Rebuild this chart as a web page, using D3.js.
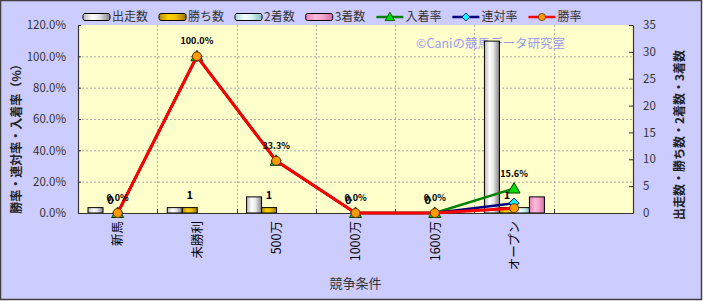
<!DOCTYPE html>
<html>
<head>
<meta charset="utf-8">
<script src="https://cdn.jsdelivr.net/npm/d3@7/dist/d3.min.js"></script>
<style>
  body { margin: 0; background: #fff; }
  svg text { font-family: "Noto Sans CJK JP", "Noto Sans", sans-serif; fill: #333; }
</style>
</head>
<body>
<div id="chart"></div>
<script>
// categories (last band is empty in the original)
const categories = ['新馬', '未勝利', '500万', '1000万', '1600万', 'オープン', ''];

// counts (right axis)
const starts  = [1, 1, 3, 0, 0, 32];
const wins    = [0, 1, 1, 0, 0, 1];
const seconds = [0, 0, 0, 0, 0, 1];
const thirds  = [0, 0, 0, 0, 0, 3];

// rates (left axis)
const placeRate  = [0, 1, 0.333, 0, 0, 0.156];
const rentaiRate = [0, 1, 0.333, 0, 0, 0.063];
const winRate    = [0, 1, 0.333, 0, 0, 0.031];

const leftTicks = [0, 0.2, 0.4, 0.6, 0.8, 1.0, 1.2];
const rightTicks = [0, 5, 10, 15, 20, 25, 30, 35];

const barSeries = [
    { name: '出走数', values: starts,  grad: 'g-start'  },
    { name: '勝ち数', values: wins,    grad: 'g-win'    },
    { name: '2着数',  values: seconds, grad: 'g-second' },
    { name: '3着数',  values: thirds,  grad: 'g-third'  }
];
const lineSeries = [
    { name: '入着率', values: placeRate,  color: '#008000', width: 2.5, marker: 'triangle', fill: '#00dd00', mstroke: '#004000' },
    { name: '連対率', values: rentaiRate, color: '#000080', width: 2.5, marker: 'diamond',  fill: '#00ffff', mstroke: '#000060' },
    { name: '勝率',   values: winRate,    color: '#ff0000', width: 3,   marker: 'circle',   fill: '#ff9900', mstroke: '#663300' }
];

const W = 703, H = 301;
const margin = { top: 25, left: 78, right: 70, bottom: 88 };
const width = W - margin.left - margin.right;
const height = H - margin.top - margin.bottom;

const svg = d3.select('#chart').append('svg')
    .attr('width', W).attr('height', H);

// gradients for the cylinder-ish bars
const defs = svg.append('defs');
function grad(id, stops) {
    let g = defs.append('linearGradient').attr('id', id)
        .attr('x1', '0%').attr('x2', '100%').attr('y1', '0%').attr('y2', '0%');
    stops.forEach(s => g.append('stop').attr('offset', s[0]).attr('stop-color', s[1]));
}
grad('g-start',  [[0, '#b8b8b8'], [0.35, '#ffffff'], [0.6, '#e8e8e8'], [1, '#808080']]);
grad('g-win',    [[0, '#b08800'], [0.35, '#ffd200'], [0.6, '#f0c000'], [1, '#a07800']]);
grad('g-second', [[0, '#a8d8d8'], [0.35, '#f4ffff'], [0.6, '#d8f4f4'], [1, '#88c0c0']]);
grad('g-third',  [[0, '#e080b0'], [0.35, '#ffb8dc'], [0.6, '#f8a8d0'], [1, '#d070a0']]);

// background + frame
svg.append('rect').attr('x', 0.5).attr('y', 0.5).attr('width', W - 2).attr('height', H - 2)
    .attr('fill', '#ccccff').attr('stroke', '#404040').attr('stroke-width', 1.5);

const g = svg.append('g').attr('transform', `translate(${margin.left},${margin.top})`);

g.append('rect').attr('width', width).attr('height', height).attr('fill', '#ffffcc');

// scales
const x0 = d3.scaleBand().domain(categories).range([0, width]);
const x1 = d3.scaleBand().domain(barSeries.map(d => d.name)).range([10, 70]);
const yL = d3.scaleLinear().domain([0, 1.2]).range([height, 0]);
const yR = d3.scaleLinear().domain([0, 35]).range([height, 0]);

// grid
g.append('g').selectAll('line').data(leftTicks.slice(1, -1)).join('line')
    .attr('x1', 0).attr('x2', width)
    .attr('y1', d => yL(d) + 0.5).attr('y2', d => yL(d) + 0.5)
    .attr('stroke', '#a8a8a8').attr('stroke-dasharray', '2,2');
g.append('g').selectAll('line').data(categories.slice(1)).join('line')
    .attr('x1', d => Math.round(x0(d)) + 0.5).attr('x2', d => Math.round(x0(d)) + 0.5)
    .attr('y1', 0).attr('y2', height)
    .attr('stroke', '#a8a8a8').attr('stroke-dasharray', '2,2');

// watermark (behind bars)
g.append('text').attr('x', 338).attr('y', 23)
    .style('font-size', '12.5px').style('fill', '#9a9af0')
    .text('©Caniの競馬データ研究室');

// bars
barSeries.forEach(function(s) {
    g.append('g').selectAll('rect')
        .data(s.values.map((v, i) => ({ cat: categories[i], v: v })).filter(d => d.v > 0))
        .join('rect')
        .attr('x', d => x0(d.cat) + x1(s.name))
        .attr('y', d => yR(d.v))
        .attr('width', x1.bandwidth())
        .attr('height', d => height - yR(d.v))
        .attr('fill', `url(#${s.grad})`)
        .attr('stroke', '#000').attr('stroke-width', 1);
});

// win count labels
g.append('g').selectAll('text')
    .data(wins.map((v, i) => ({ cat: categories[i], v: v })))
    .join('text')
    .attr('x', d => x0(d.cat) + x1('勝ち数') + x1.bandwidth() / 2)
    .attr('y', d => yR(d.v) - 9)
    .attr('text-anchor', 'middle')
    .style('font-size', '11px').style('font-weight', 'bold').style('fill', '#000')
    .text(d => d.v);

// axes
const axisColor = '#333';
const gl = g.append('g').call(d3.axisLeft(yL).tickValues(leftTicks).tickFormat(d3.format('.1%'))
    .tickSizeInner(-3).tickSizeOuter(0).tickPadding(12));
const gr = g.append('g').attr('transform', `translate(${width},0)`)
    .call(d3.axisRight(yR).tickValues(rightTicks).tickSizeInner(-4).tickSizeOuter(0).tickPadding(10));
const gb = g.append('g').attr('transform', `translate(0,${height})`)
    .call(d3.axisBottom(x0).tickSize(0).tickPadding(0));
[gl, gr, gb].forEach(a => {
    a.select('.domain').attr('stroke', axisColor).attr('stroke-width', 1.2);
    a.selectAll('.tick line').attr('stroke', axisColor);
    a.selectAll('text').style('font-size', '11.5px').style('fill', '#333').style('font-family', '"Noto Sans CJK JP", sans-serif');
});
// category labels rotated
gb.selectAll('.tick text')
    .attr('transform', 'rotate(-90)')
    .attr('text-anchor', 'end')
    .attr('x', -8).attr('y', 0).attr('dy', '0.38em')
    .style('font-size', '12.5px').style('fill', '#000');
// boundary ticks on bottom axis
gb.append('g').selectAll('line').data(categories.slice(1)).join('line')
    .attr('x1', d => Math.round(x0(d)) + 0.5).attr('x2', d => Math.round(x0(d)) + 0.5)
    .attr('y1', 0).attr('y2', -4).attr('stroke', axisColor);

// lines + markers
const line = d3.line().x((d, i) => x0(categories[i]) + x0.bandwidth() / 2).y(d => yL(d));
function marker(sel, s) {
    if (s.marker === 'circle') {
        sel.append('circle').attr('r', 4.5);
    } else if (s.marker === 'triangle') {
        sel.append('path').attr('d', 'M0,-6L6,4.5L-6,4.5Z');
    } else {
        sel.append('path').attr('d', 'M0,-5L5,0L0,5L-5,0Z');
    }
    sel.selectAll('circle,path').attr('fill', s.fill).attr('stroke', s.mstroke).attr('stroke-width', 1);
}
lineSeries.forEach(function(s) {
    g.append('path').datum(s.values).attr('d', line)
        .attr('fill', 'none').attr('stroke', s.color).attr('stroke-width', s.width);
    g.append('g').selectAll('g').data(s.values).join('g')
        .attr('transform', (d, i) => `translate(${x0(categories[i]) + x0.bandwidth() / 2},${yL(d)})`)
        .each(function() { marker(d3.select(this), s); });
});

// rate labels (入着率)
g.append('g').selectAll('text').data(placeRate).join('text')
    .attr('x', (d, i) => x0(categories[i]) + x0.bandwidth() / 2)
    .attr('y', d => yL(d) - 12)
    .attr('text-anchor', 'middle')
    .style('font-size', '9px').style('font-weight', 'bold').style('fill', '#000')
    .text(d => d3.format('.1%')(d));

// axis titles
svg.append('text').attr('transform', `translate(21,136) rotate(-90)`)
    .attr('text-anchor', 'middle').style('font-size', '12px').style('font-weight', 'bold').style('fill', '#222')
    .text('勝率・連対率・入着率（%）');
svg.append('text').attr('transform', `translate(684,135) rotate(-90)`)
    .attr('text-anchor', 'middle').style('font-size', '12px').style('font-weight', 'bold').style('fill', '#222')
    .text('出走数・勝ち数・2着数・3着数');
svg.append('text').attr('x', margin.left + width / 2).attr('y', 288)
    .attr('text-anchor', 'middle').style('font-size', '13px').style('fill', '#333')
    .text('競争条件');

// legend
const legend = svg.append('g').attr('transform', 'translate(83,17)');
let lx = 0;
barSeries.concat(lineSeries).forEach(function(s) {
    let item = legend.append('g').attr('transform', `translate(${lx},0)`);
    if (s.grad) {
        item.append('rect').attr('x', 0).attr('y', -3.5).attr('width', 27).attr('height', 7)
            .attr('rx', 2).attr('fill', `url(#${s.grad})`).attr('stroke', '#000');
    } else {
        item.append('line').attr('x1', 0).attr('x2', 27).attr('y1', 0).attr('y2', 0)
            .attr('stroke', s.color).attr('stroke-width', 2.5);
        let m = item.append('g').attr('transform', 'translate(13.5,0) scale(0.8)');
        marker(m, s);
    }
    let t = item.append('text').attr('x', 29).attr('y', 0).attr('dy', '0.36em')
        .style('font-size', '12px').style('fill', '#333').text(s.name);
    lx += 29 + t.node().getComputedTextLength() + 11;
});
</script>
</body>
</html>
